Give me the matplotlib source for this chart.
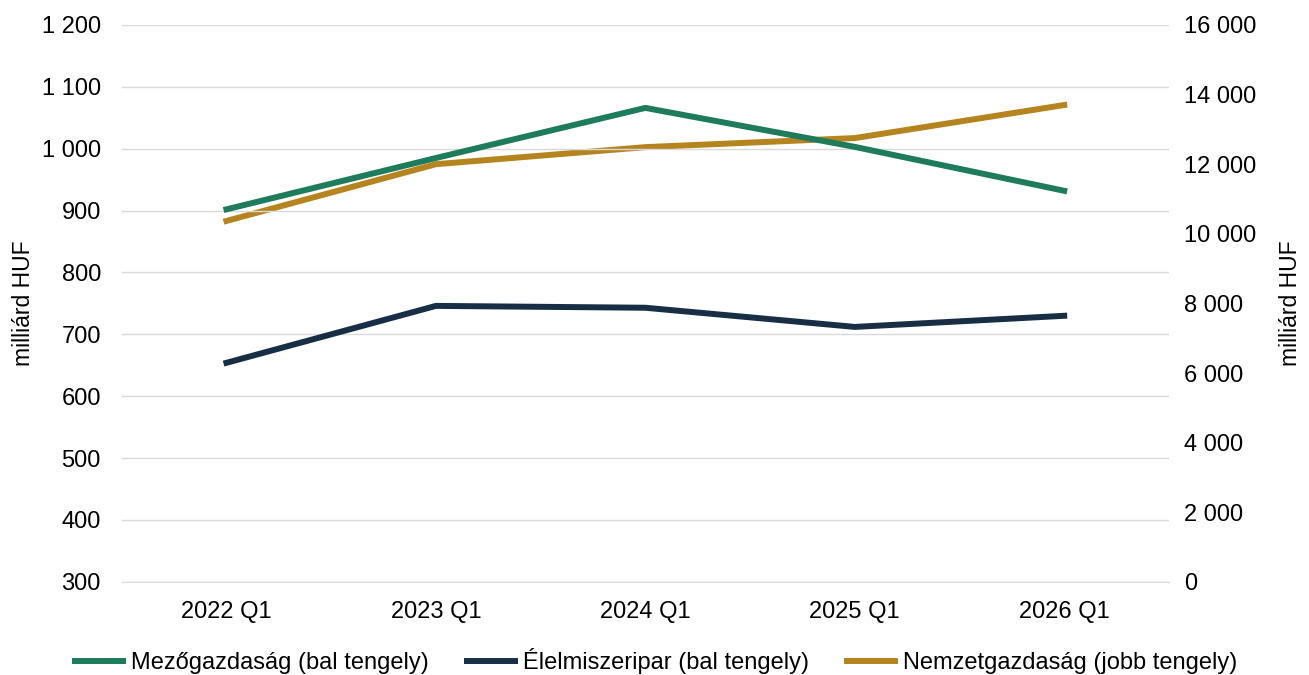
import matplotlib
matplotlib.use('Agg')
from matplotlib import pyplot as plt
from matplotlib.ticker import FuncFormatter

plt.rcParams['font.family'] = ['Liberation Sans', 'DejaVu Sans']

#################### DATA ####################
quarters = ['2022 Q1', '2023 Q1', '2024 Q1', '2025 Q1', '2026 Q1']
mezogazdasag = [902, 985, 1066, 1003, 932]       # bal tengely
elelmiszeripar = [654, 746, 743, 712, 730]       # bal tengely
nemzetgazdasag = [10370, 12000, 12490, 12750, 13700]  # jobb tengely

c_green = '#1e7b5c'
c_navy = '#182e45'
c_gold = '#b5841f'


def space_thousands(v, pos):
    return f'{int(round(v)):,}'.replace(',', ' ')


fig, ax = plt.subplots(figsize=(13.09, 6.75), dpi=100)
fig.subplots_adjust(left=0.093, right=0.893, top=0.963, bottom=0.138)
ax2 = ax.twinx()

x = range(len(quarters))
l1, = ax.plot(x, mezogazdasag, color=c_green, lw=4.3, label='Mezőgazdaság (bal tengely)')
l2, = ax.plot(x, elelmiszeripar, color=c_navy, lw=4.3, label='Élelmiszeripar (bal tengely)')
l3, = ax2.plot(x, nemzetgazdasag, color=c_gold, lw=4.3, label='Nemzetgazdaság (jobb tengely)')

ax.set_xlim(-0.5, 4.5)
ax.set_ylim(300, 1200)
ax.set_yticks(range(300, 1201, 100))
ax2.set_ylim(0, 16000)
ax2.set_yticks(range(0, 16001, 2000))
ax.yaxis.set_major_formatter(FuncFormatter(space_thousands))
ax2.yaxis.set_major_formatter(FuncFormatter(space_thousands))
ax.set_xticks(list(x))
ax.set_xticklabels(quarters)

ax.grid(axis='y', color='#d9d9d9', lw=1)
ax.set_axisbelow(True)
for a in (ax, ax2):
    for s in a.spines.values():
        s.set_visible(False)
    a.tick_params(length=0, labelsize=17, colors='black')
ax.spines['bottom'].set_visible(True)
ax.spines['bottom'].set_color('#d9d9d9')
ax.tick_params(axis='x', pad=14)
ax.tick_params(axis='y', pad=15)
ax2.tick_params(axis='y', pad=11)

ax.set_ylabel('milliárd HUF', fontsize=16.5, labelpad=5)
ax2.set_ylabel('milliárd HUF', fontsize=16.5, labelpad=16)

ax.set_zorder(ax2.get_zorder() + 1)
ax.patch.set_visible(False)

leg = fig.legend(handles=[l1, l2, l3], loc='lower center', ncol=3, frameon=False,
                 fontsize=17, bbox_to_anchor=(0.5, -0.03), handlelength=2.3,
                 handletextpad=0.2, columnspacing=1.5)
for h in leg.legend_handles:
    h.set_solid_capstyle('butt')

plt.savefig('out.png', dpi=100)
